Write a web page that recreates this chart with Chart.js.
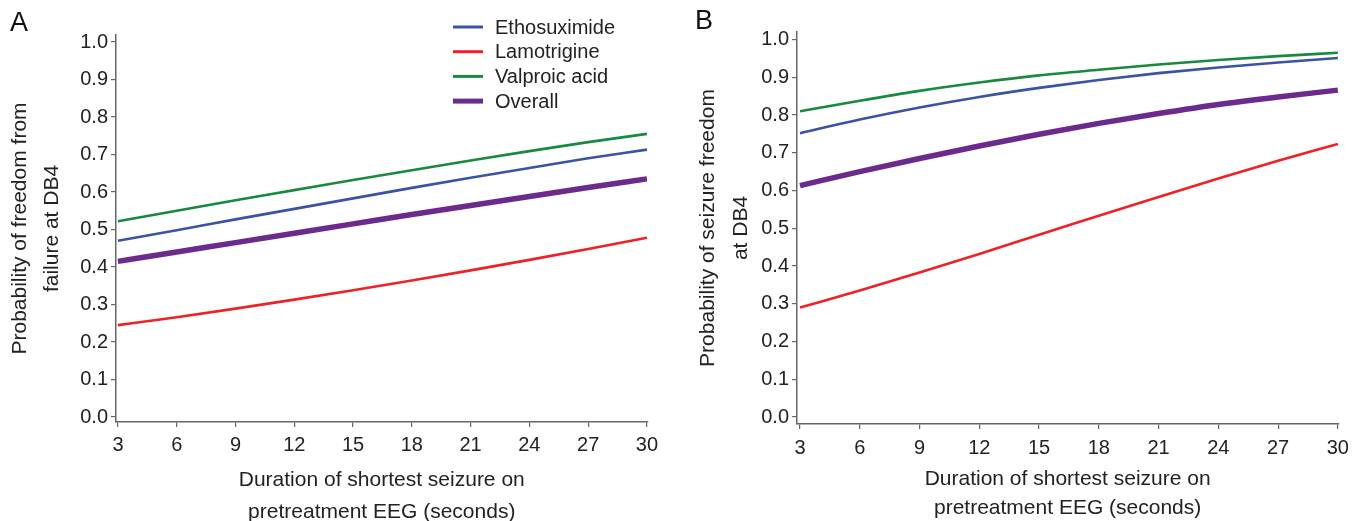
<!DOCTYPE html>
<html>
<head>
<meta charset="utf-8">
<script src="https://cdn.jsdelivr.net/npm/chart.js@4.4.1/dist/chart.umd.min.js"></script>
<style>
  html, body { margin:0; padding:0; background:#fff; }
  body { width:1356px; height:521px; position:relative; overflow:hidden; }
  .panel { position:absolute; top:0; height:521px; }
  #pa { left:0; width:680px; }
  #pb { left:680px; width:676px; }
  .lab { position:absolute; font-family:"Liberation Sans", Arial, sans-serif; font-size:27px; line-height:31px; color:#111; }
</style>
</head>
<body>
<div class="panel" id="pa"><canvas id="ca"></canvas></div>
<div class="panel" id="pb"><canvas id="cb"></canvas></div>
<div class="lab" style="left:10px; top:7px;">A</div>
<div class="lab" style="left:695px; top:5px;">B</div>
<script>
// ---- data ----
const durations = [3, 6, 9, 12, 15, 18, 21, 24, 27, 30];
const seriesNames = ["Ethosuximide", "Lamotrigine", "Valproic acid", "Overall"];
const xTickValues = [3, 6, 9, 12, 15, 18, 21, 24, 27, 30];
const yTickValues = [0.0, 0.1, 0.2, 0.3, 0.4, 0.5, 0.6, 0.7, 0.8, 0.9, 1.0];

// Panel A: probability of freedom from failure at DB4
const aEthosuximide = [0.470, 0.498, 0.527, 0.555, 0.583, 0.611, 0.638, 0.664, 0.690, 0.713];
const aLamotrigine  = [0.245, 0.266, 0.289, 0.313, 0.338, 0.364, 0.391, 0.419, 0.448, 0.478];
const aValproic     = [0.522, 0.550, 0.578, 0.605, 0.632, 0.658, 0.684, 0.709, 0.733, 0.755];
const aOverall      = [0.415, 0.440, 0.465, 0.490, 0.515, 0.540, 0.564, 0.588, 0.612, 0.635];

// Panel B: probability of seizure freedom at DB4
const bEthosuximide = [0.752, 0.788, 0.820, 0.848, 0.872, 0.893, 0.911, 0.926, 0.939, 0.951];
const bLamotrigine  = [0.290, 0.335, 0.383, 0.432, 0.483, 0.533, 0.583, 0.632, 0.679, 0.723];
const bValproic     = [0.810, 0.838, 0.864, 0.886, 0.905, 0.920, 0.934, 0.946, 0.956, 0.965];
const bOverall      = [0.613, 0.650, 0.685, 0.718, 0.749, 0.778, 0.804, 0.828, 0.848, 0.866];

const colors = ["#3A53A4", "#EE2226", "#178A3F", "#6B2A8C"];
const widths = [2.6, 2.6, 2.6, 5.5];

const tickFont = { family: "'Liberation Sans', Arial, sans-serif", size: 20 };
const titleFont = { family: "'Liberation Sans', Arial, sans-serif", size: 21 };

function makeDatasets(arrs) {
  return arrs.map((arr, i) => ({
    label: seriesNames[i],
    data: durations.map((d, j) => ({ x: d, y: arr[j] })),
    borderColor: colors[i],
    backgroundColor: colors[i],
    borderWidth: widths[i],
    pointRadius: 0,
    cubicInterpolationMode: 'monotone',
    fill: false
  }));
}

const legendPlugin = {
  id: 'customLegend',
  afterDraw(chart, args, opts) {
    if (!opts.show) return;
    const ctx = chart.ctx;
    ctx.save();
    ctx.font = "20px 'Liberation Sans', Arial, sans-serif";
    ctx.textBaseline = 'middle';
    ctx.fillStyle = '#222';
    chart.data.datasets.forEach((ds, i) => {
      const y = opts.y0 + i * opts.dy;
      ctx.strokeStyle = ds.borderColor;
      ctx.lineWidth = ds.borderWidth > 4 ? 5 : 3;
      ctx.beginPath();
      ctx.moveTo(opts.x0, y);
      ctx.lineTo(opts.x0 + 30, y);
      ctx.stroke();
      ctx.fillText(ds.label, opts.x0 + 42, y + 1);
    });
    ctx.restore();
  }
};

function makeChart(id, arrs, cfg) {
  return new Chart(document.getElementById(id), {
    type: 'line',
    data: { datasets: makeDatasets(arrs) },
    plugins: [legendPlugin],
    options: {
      responsive: true,
      maintainAspectRatio: false,
      animation: false,
      layout: { padding: { top: cfg.top, right: cfg.right, left: 0, bottom: 0 } },
      plugins: {
        legend: { display: false },
        tooltip: { enabled: false },
        customLegend: cfg.legend
      },
      scales: {
        x: {
          type: 'linear',
          min: cfg.xmin, max: cfg.xmax,
          afterBuildTicks(s) { s.ticks = xTickValues.map(v => ({ value: v })); },
          afterFit(s) { s.height = cfg.xh; },
          ticks: { font: tickFont, color: '#222', padding: cfg.xtp, maxRotation: 0, autoSkip: false,
                   callback: v => String(v) },
          grid: { display: true, drawOnChartArea: false, drawTicks: true, tickLength: 5, color: '#666', lineWidth: 1.2 },
          border: { display: true, color: '#666', width: 1.5 },
          title: { display: true, text: ['Duration of shortest seizure on', 'pretreatment EEG (seconds)'],
                   font: Object.assign({ lineHeight: cfg.xlh / 21 }, titleFont), color: '#222',
                   padding: { top: 0, bottom: cfg.xpb } }
        },
        y: {
          type: 'linear',
          min: cfg.ymin, max: cfg.ymax,
          afterBuildTicks(s) { s.ticks = yTickValues.map(v => ({ value: v })); },
          afterFit(s) { s.width = cfg.yw; },
          ticks: { font: tickFont, color: '#222', padding: 3, callback: v => Number(v).toFixed(1) },
          grid: { display: true, drawOnChartArea: false, drawTicks: true, tickLength: 5, color: '#666', lineWidth: 1.2 },
          border: { display: true, color: '#666', width: 1.5 },
          title: { display: true, text: cfg.ytitle,
                   font: Object.assign({ lineHeight: cfg.ylh / 21 }, titleFont), color: '#222',
                   padding: { top: cfg.ypt, bottom: 0 } }
        }
      }
    }
  });
}

makeChart('ca', [aEthosuximide, aLamotrigine, aValproic, aOverall], {
  top: 35, right: 32.5, xmin: 2.9, xmax: 30.03, ymin: -0.0133, ymax: 1.0187,
  xh: 99, yw: 116, xtp: 6, xlh: 32, xpb: -7, ylh: 32, ypt: 4.5,
  ytitle: ['Probability of freedom from', 'failure at DB4'],
  legend: { show: true, x0: 453, y0: 27, dy: 24.7 }
});
makeChart('cb', [bEthosuximide, bLamotrigine, bValproic, bOverall], {
  top: 32, right: 17.5, xmin: 2.85, xmax: 30.02, ymin: -0.0185, ymax: 1.02,
  xh: 97, yw: 117, xtp: 7, xlh: 29, xpb: -2, ylh: 33, ypt: 12,
  ytitle: ['Probability of seizure freedom', 'at DB4'],
  legend: { show: false }
});
</script>
</body>
</html>
